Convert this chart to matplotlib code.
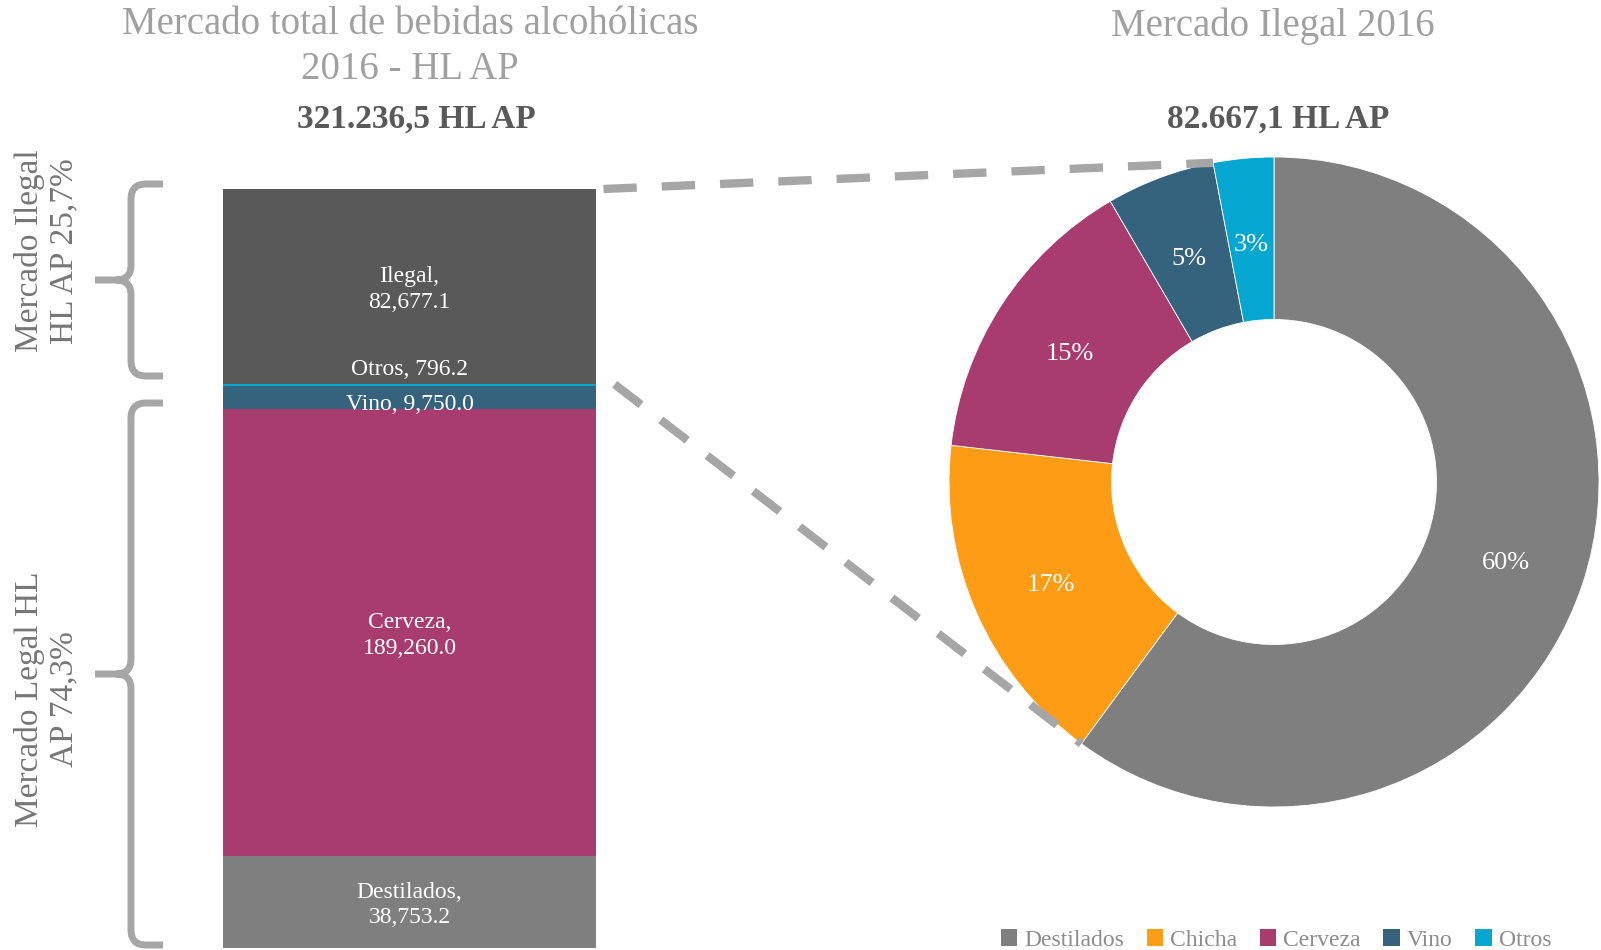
import matplotlib
matplotlib.use("Agg")
import matplotlib.pyplot as plt
from matplotlib.path import Path
from matplotlib.patches import PathPatch, Patch, ConnectionPatch
import numpy as np

plt.rcParams['font.family'] = ['Liberation Serif', 'DejaVu Serif']

# ---------------- data ----------------
bar_categories = ["Destilados", "Cerveza", "Vino", "Otros", "Ilegal"]
bar_values = [38753.2, 189260.0, 9750.0, 796.2, 82677.1]
bar_colors = ["#7F7F7F", "#A83C6E", "#35637D", "#05A6D0", "#595959"]

donut_categories = ["Destilados", "Chicha", "Cerveza", "Vino", "Otros"]
donut_shares = [60.1, 16.7, 14.8, 5.4, 3.0]
donut_colors = ["#7F7F7F", "#FE9D15", "#A83C6E", "#35637D", "#05A6D0"]

left_title = "Mercado total de bebidas alcohólicas\n2016 - HL AP"
left_total = "321.236,5 HL AP"
right_title = "Mercado Ilegal 2016"
right_total = "82.667,1 HL AP"
upper_brace_label = "Mercado Ilegal\nHL AP 25,7%"
lower_brace_label = "Mercado Legal HL\nAP 74,3%"

W, H = 1601, 950
fig = plt.figure(figsize=(W / 100, H / 100), dpi=100)


def fx(x):
    return x / W


def fy(y):
    return 1 - y / H


# ---------------- stacked bar ----------------
ax1 = fig.add_axes([fx(223), fy(948), (596 - 223) / W, (948 - 189) / H])
total = sum(bar_values)
bottom = 0
for cat, val, col in zip(bar_categories, bar_values, bar_colors):
    ax1.bar(0, val, width=1.0, bottom=bottom, color=col, linewidth=0)
    bottom += val
ax1.set_xlim(-0.5, 0.5)
ax1.set_ylim(0, total)
ax1.axis('off')

# bar labels
cum = np.cumsum([0] + bar_values)
lab_kw = dict(ha='center', va='center', color='white', fontsize=17,
              linespacing=1.3, textcoords='offset points')
for i, (cat, val) in enumerate(zip(bar_categories, bar_values)):
    mid = (cum[i] + cum[i + 1]) / 2
    if cat == "Otros":
        ax1.annotate(f"{cat}, {val:,.1f}", (0, cum[i + 1]), xytext=(0, 11), **lab_kw)
    elif cat == "Vino":
        ax1.annotate(f"{cat}, {val:,.1f}", (0, mid), xytext=(0, -5), **lab_kw)
    else:
        ax1.annotate(f"{cat},\n{val:,.1f}", (0, mid), xytext=(0, -2), **lab_kw)

# ---------------- donut ----------------
R = 325
ax2 = fig.add_axes([fx(1274 - R), fy(482 + R), 2 * R / W, 2 * R / H])
wedges, texts, autotexts = ax2.pie(
    donut_shares, colors=donut_colors, startangle=90, counterclock=False,
    radius=1.0, wedgeprops=dict(width=0.5, edgecolor='white', linewidth=0.6),
    autopct=lambda p: f"{p:.0f}%", pctdistance=0.75,
    textprops=dict(color='white', fontsize=19))
for t in autotexts:
    x, y = t.get_position()
    t.set_position((x, y - 0.016))
ax2.set_xlim(-1, 1)
ax2.set_ylim(-1, 1)
ax2.set_aspect('equal')
ax2.axis('off')

# connector lines
shares = np.array(donut_shares) / sum(donut_shares)
cshare = np.cumsum(shares)
ang_top = np.deg2rad(90 - cshare[3] * 360)   # Vino / Otros boundary
ang_bot = np.deg2rad(90 - cshare[0] * 360)   # Destilados / Chicha boundary
dash_kw = dict(color='#A6A6A6', linewidth=6, linestyle=(0, (4, 3)))
ilegal_bottom = total - bar_values[-1]
for xyA, ang in [((0.52, total), ang_top), ((0.55, ilegal_bottom), ang_bot)]:
    con = ConnectionPatch(xyA=xyA, coordsA=ax1.transData,
                          xyB=(np.cos(ang), np.sin(ang)), coordsB=ax2.transData,
                          **dash_kw)
    con.set_capstyle('butt')
    fig.add_artist(con)


# ---------------- braces ----------------
def brace(xr, xm, xt, y0, y1, r=15):
    ym = (y0 + y1) / 2
    P = lambda x, y: (fx(x), fy(y))
    verts = [P(xr, y0), P(xm + r, y0), P(xm, y0), P(xm, y0 + r),
             P(xm, ym - r), P(xm, ym), P(xm - r, ym), P(xt, ym),
             P(xm - r, ym), P(xm, ym), P(xm, ym + r),
             P(xm, y1 - r), P(xm, y1), P(xm + r, y1), P(xr, y1)]
    codes = [Path.MOVETO, Path.LINETO, Path.CURVE3, Path.CURVE3,
             Path.LINETO, Path.CURVE3, Path.CURVE3, Path.LINETO,
             Path.MOVETO, Path.CURVE3, Path.CURVE3,
             Path.LINETO, Path.CURVE3, Path.CURVE3, Path.LINETO]
    patch = PathPatch(Path(verts, codes), transform=fig.transFigure,
                      facecolor='none', edgecolor='#A6A6A6', linewidth=5,
                      capstyle='butt', joinstyle='round')
    fig.add_artist(patch)


brace(163, 131, 95, 184, 376)
brace(163, 131, 95, 403, 945)

fig.text(fx(47), fy(251), upper_brace_label, rotation=90, ha='center', va='center',
         fontsize=24, color='#767676', linespacing=1.15, multialignment='center')
fig.text(fx(47), fy(699), lower_brace_label, rotation=90, ha='center', va='center',
         fontsize=24, color='#767676', linespacing=1.15, multialignment='center')

# ---------------- titles ----------------
fig.text(fx(410), fy(47), left_title, ha='center', va='center', fontsize=28,
         color='#A0A0A0', linespacing=1.3)
fig.text(fx(416), fy(119), left_total, ha='center', va='center', fontsize=24,
         color='#595959', fontweight='bold')
fig.text(fx(1273), fy(26), right_title, ha='center', va='center', fontsize=28,
         color='#A0A0A0')
fig.text(fx(1278), fy(119), right_total, ha='center', va='center', fontsize=24,
         color='#595959', fontweight='bold')

# ---------------- legend ----------------
handles = [Patch(facecolor=c, edgecolor='none') for c in donut_colors]
fig.legend(handles, donut_categories, loc='center', bbox_to_anchor=(fx(1276), fy(940)),
           ncol=5, frameon=False, fontsize=17, labelcolor='#8C8C8C',
           handlelength=0.7, handleheight=0.7, handletextpad=0.3,
           columnspacing=0.95, borderpad=0, borderaxespad=0)

fig.savefig("out.png", dpi=100)
